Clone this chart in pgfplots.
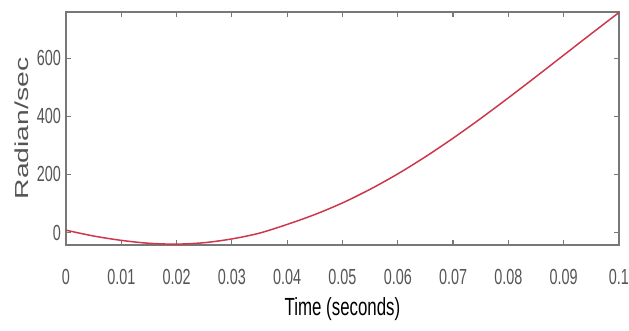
\documentclass[border=0pt]{standalone}
\usepackage{pgfplots}
\pgfplotsset{compat=1.18}
\usepackage{fontspec}
\setmainfont{Liberation Sans}
\usetikzlibrary{calc}
\definecolor{curve}{RGB}{205,55,75}
\definecolor{axgray}{RGB}{120,120,120}
\definecolor{tickgray}{RGB}{85,85,85}
\newcommand{\cond}[1]{\scalebox{0.66}[1]{#1}}
\begin{document}
\begin{tikzpicture}
\begin{axis}[
  scale only axis,
  width=557.5pt, height=235pt,
  xmin=0, xmax=0.1, ymin=-43, ymax=760,
  axis line style={axgray, line width=1.6pt},
  every tick/.style={axgray, line width=1.2pt},
  major tick length=5pt,
  tick align=inside,
  xtick={0,0.01,0.02,0.03,0.04,0.05,0.06,0.07,0.08,0.09,0.1},
  xticklabels={\cond{0},\cond{0.01},\cond{0.02},\cond{0.03},\cond{0.04},\cond{0.05},\cond{0.06},\cond{0.07},\cond{0.08},\cond{0.09},\cond{0.1}},
  ytick={0,200,400,600},
  yticklabels={\cond{0},\cond{200},\cond{400},\cond{600}},
  xticklabel style={font=\fontsize{22}{22}\selectfont, text=tickgray, inner sep=0pt, anchor=north, yshift=-24pt},
  yticklabel style={font=\fontsize{22}{22}\selectfont, text=tickgray, inner sep=0pt, anchor=east, xshift=-5pt},
  every axis x label/.style={at={(axis description cs:0.5,-0.275)}, anchor=center},
  every axis y label/.style={at={(axis description cs:-0.0795,0.5)}, rotate=90, anchor=center},
  xlabel={\fontsize{25}{25}\selectfont\scalebox{0.68}[1]{Time (seconds)}},
  ylabel={\textcolor{tickgray}{\fontsize{19}{19}\selectfont\scalebox{1.5}[1]{Radian/sec}}},
  clip=false,
]
\addplot[curve, line width=1.5pt, smooth, mark=none] coordinates {
(0,8) (0.005,-12) (0.01,-27) (0.015,-37) (0.02,-40) (0.025,-35) (0.03,-22)
(0.035,-2) (0.04,28) (0.045,62) (0.05,102) (0.055,149) (0.06,202) (0.065,261)
(0.07,325) (0.075,393) (0.08,464) (0.085,537) (0.09,611) (0.095,685) (0.1,758)
};
\end{axis}
\path[use as bounding box] ($(current axis.south west)+(-66.5pt,-86pt)$) rectangle ($(current axis.north east)+(5pt,12pt)$);
\end{tikzpicture}
\end{document}
